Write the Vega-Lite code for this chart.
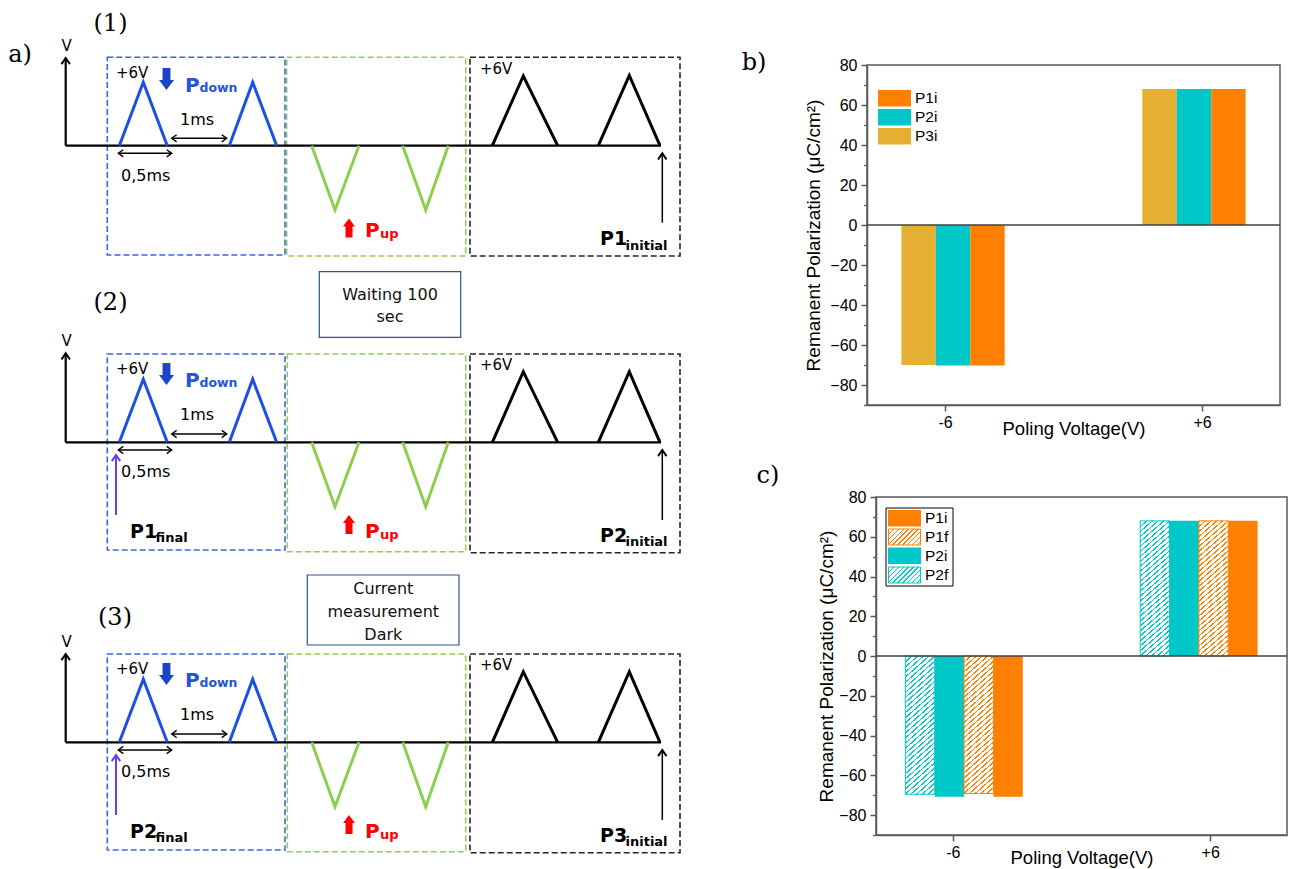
{
  "$schema": "https://vega.github.io/schema/vega-lite/v6.json",
  "padding": 0,
  "background": "white",
  "bounds": "flush",
  "spacing": 0,
  "config": {
    "view": {"stroke": null},
    "axis": {"labelFont": "Liberation Sans", "titleFont": "Liberation Sans", "labelColor": "#000", "titleColor": "#000", "titleFontWeight": "normal", "grid": false}
  },
  "hconcat": [
    {
      "width": 867,
      "height": 869,
      "encoding": {
        "x": {"field": "x", "type": "quantitative", "scale": {"domain": [0, 867], "nice": false, "zero": false}, "axis": null},
        "y": {"field": "y", "type": "quantitative", "scale": {"domain": [0, 869], "nice": false, "zero": false, "reverse": true}, "axis": null}
      },
      "layer": [
        {
          "data": {"values": [
            {"row": 1, "x": 107.3, "x2": 285, "y": 57.3, "y2": 255},
            {"row": 2, "x": 107.3, "x2": 285, "y": 354, "y2": 550},
            {"row": 3, "x": 107.3, "x2": 285, "y": 654, "y2": 850}
          ]},
          "mark": {"type": "rect", "fillOpacity": 0, "stroke": "#3A66E0", "strokeWidth": 1.6, "strokeDash": [6, 3]},
          "encoding": {"x2": {"field": "x2"}, "y2": {"field": "y2"}}
        },
        {
          "data": {"values": [
            {"row": 1, "x": 286.7, "x2": 465.7, "y": 57.3, "y2": 256},
            {"row": 2, "x": 287.3, "x2": 465.7, "y": 354, "y2": 551.7},
            {"row": 3, "x": 287.3, "x2": 465.7, "y": 654, "y2": 851.7}
          ]},
          "mark": {"type": "rect", "fillOpacity": 0, "stroke": "#92D050", "strokeWidth": 1.6, "strokeDash": [6, 3]},
          "encoding": {"x2": {"field": "x2"}, "y2": {"field": "y2"}}
        },
        {
          "data": {"values": [
            {"row": 1, "x": 470, "x2": 680, "y": 57.3, "y2": 256},
            {"row": 2, "x": 470, "x2": 680, "y": 354, "y2": 552.7},
            {"row": 3, "x": 470, "x2": 680, "y": 654, "y2": 852.7}
          ]},
          "mark": {"type": "rect", "fillOpacity": 0, "stroke": "#262626", "strokeWidth": 1.6, "strokeDash": [6, 3]},
          "encoding": {"x2": {"field": "x2"}, "y2": {"field": "y2"}}
        },
        {
          "data": {"values": [
            {"x": 319.3, "x2": 460.7, "y": 271.7, "y2": 337.3},
            {"x": 307.3, "x2": 459, "y": 575, "y2": 645}
          ]},
          "mark": {"type": "rect", "fillOpacity": 0, "stroke": "#2F528F", "strokeWidth": 1.2},
          "encoding": {"x2": {"field": "x2"}, "y2": {"field": "y2"}}
        },
        {
          "data": {"values": [
            {"x": 65.7, "x2": 65.7, "y": 58, "y2": 145.7},
            {"x": 65.7, "x2": 65.7, "y": 353.3, "y2": 442.3},
            {"x": 65.7, "x2": 65.7, "y": 654, "y2": 742.3},
            {"x": 65.7, "x2": 661, "y": 145.7, "y2": 145.7},
            {"x": 65.7, "x2": 661, "y": 442.3, "y2": 442.3},
            {"x": 65.7, "x2": 661, "y": 742.3, "y2": 742.3}
          ]},
          "mark": {"type": "rule", "color": "#000", "strokeWidth": 2.2},
          "encoding": {"x2": {"field": "x2"}, "y2": {"field": "y2"}}
        },
        {
          "data": {"values": [
            {"p": "d11", "i": 0, "x": 119.3, "y": 145.7}, {"p": "d11", "i": 1, "x": 143.3, "y": 82.3}, {"p": "d11", "i": 2, "x": 167.3, "y": 145.7},
            {"p": "d12", "i": 0, "x": 229.3, "y": 145.7}, {"p": "d12", "i": 1, "x": 252.7, "y": 82.3}, {"p": "d12", "i": 2, "x": 276.7, "y": 145.7},
            {"p": "d21", "i": 0, "x": 119.3, "y": 442.3}, {"p": "d21", "i": 1, "x": 143.3, "y": 379.3}, {"p": "d21", "i": 2, "x": 167.3, "y": 442.3},
            {"p": "d22", "i": 0, "x": 229.3, "y": 442.3}, {"p": "d22", "i": 1, "x": 252.7, "y": 379.3}, {"p": "d22", "i": 2, "x": 276.7, "y": 442.3},
            {"p": "d31", "i": 0, "x": 119.3, "y": 742.3}, {"p": "d31", "i": 1, "x": 143.3, "y": 679.3}, {"p": "d31", "i": 2, "x": 167.3, "y": 742.3},
            {"p": "d32", "i": 0, "x": 229.3, "y": 742.3}, {"p": "d32", "i": 1, "x": 252.7, "y": 679.3}, {"p": "d32", "i": 2, "x": 276.7, "y": 742.3}
          ]},
          "mark": {"type": "line", "color": "#1B4FE6", "strokeWidth": 3, "strokeJoin": "miter", "strokeCap": "butt"},
          "encoding": {"detail": {"field": "p"}, "order": {"field": "i", "type": "quantitative"}}
        },
        {
          "data": {"values": [
            {"p": "u11", "i": 0, "x": 311.7, "y": 145.7}, {"p": "u11", "i": 1, "x": 335, "y": 210}, {"p": "u11", "i": 2, "x": 359, "y": 145.7},
            {"p": "u12", "i": 0, "x": 402.7, "y": 145.7}, {"p": "u12", "i": 1, "x": 425.7, "y": 210}, {"p": "u12", "i": 2, "x": 448.3, "y": 145.7},
            {"p": "u21", "i": 0, "x": 311.7, "y": 442.3}, {"p": "u21", "i": 1, "x": 335, "y": 506.7}, {"p": "u21", "i": 2, "x": 359, "y": 442.3},
            {"p": "u22", "i": 0, "x": 402.7, "y": 442.3}, {"p": "u22", "i": 1, "x": 425.7, "y": 506.7}, {"p": "u22", "i": 2, "x": 448.3, "y": 442.3},
            {"p": "u31", "i": 0, "x": 311.7, "y": 742.3}, {"p": "u31", "i": 1, "x": 335, "y": 806.7}, {"p": "u31", "i": 2, "x": 359, "y": 742.3},
            {"p": "u32", "i": 0, "x": 402.7, "y": 742.3}, {"p": "u32", "i": 1, "x": 425.7, "y": 806.7}, {"p": "u32", "i": 2, "x": 448.3, "y": 742.3}
          ]},
          "mark": {"type": "line", "color": "#8CCF4D", "strokeWidth": 3, "strokeJoin": "miter", "strokeCap": "butt"},
          "encoding": {"detail": {"field": "p"}, "order": {"field": "i", "type": "quantitative"}}
        },
        {
          "data": {"values": [
            {"p": "k11", "i": 0, "x": 492.3, "y": 145.7}, {"p": "k11", "i": 1, "x": 523.3, "y": 76}, {"p": "k11", "i": 2, "x": 557.7, "y": 145.7},
            {"p": "k12", "i": 0, "x": 598.3, "y": 145.7}, {"p": "k12", "i": 1, "x": 629.3, "y": 75.5}, {"p": "k12", "i": 2, "x": 660, "y": 145.7},
            {"p": "k21", "i": 0, "x": 492.3, "y": 442.3}, {"p": "k21", "i": 1, "x": 523.3, "y": 371.7}, {"p": "k21", "i": 2, "x": 557.7, "y": 442.3},
            {"p": "k22", "i": 0, "x": 598.3, "y": 442.3}, {"p": "k22", "i": 1, "x": 629.3, "y": 371.7}, {"p": "k22", "i": 2, "x": 660, "y": 442.3},
            {"p": "k31", "i": 0, "x": 492.3, "y": 742.3}, {"p": "k31", "i": 1, "x": 523.3, "y": 671.7}, {"p": "k31", "i": 2, "x": 557.7, "y": 742.3},
            {"p": "k32", "i": 0, "x": 598.3, "y": 742.3}, {"p": "k32", "i": 1, "x": 629.3, "y": 671.7}, {"p": "k32", "i": 2, "x": 660, "y": 742.3}
          ]},
          "mark": {"type": "line", "color": "#000000", "strokeWidth": 3, "strokeJoin": "miter", "strokeCap": "butt"},
          "encoding": {"detail": {"field": "p"}, "order": {"field": "i", "type": "quantitative"}}
        },
        {
          "data": {"values": [
            {"x": 171.7, "x2": 226.7, "y": 138.3, "y2": 138.3},
            {"x": 171.7, "x2": 226.7, "y": 434, "y2": 434},
            {"x": 171.7, "x2": 226.7, "y": 734, "y2": 734},
            {"x": 118.3, "x2": 171.7, "y": 153.3, "y2": 153.3},
            {"x": 118.3, "x2": 171.7, "y": 450, "y2": 450},
            {"x": 118.3, "x2": 171.7, "y": 750, "y2": 750},
            {"x": 662.3, "x2": 662.3, "y": 154, "y2": 222.7},
            {"x": 662.3, "x2": 662.3, "y": 451, "y2": 520},
            {"x": 662.3, "x2": 662.3, "y": 751, "y2": 820}
          ]},
          "mark": {"type": "rule", "color": "#000", "strokeWidth": 1.5},
          "encoding": {"x2": {"field": "x2"}, "y2": {"field": "y2"}}
        },
        {
          "data": {"values": [
            {"x": 116, "x2": 116, "y": 456, "y2": 515},
            {"x": 116, "x2": 116, "y": 756, "y2": 815}
          ]},
          "mark": {"type": "rule", "color": "#6A3CF0", "strokeWidth": 2},
          "encoding": {"x2": {"field": "x2"}, "y2": {"field": "y2"}}
        },
        {
          "data": {"values": [
            {"x": 171.7, "y": 138.3}, {"x": 171.7, "y": 434}, {"x": 171.7, "y": 734},
            {"x": 118.3, "y": 153.3}, {"x": 118.3, "y": 450}, {"x": 118.3, "y": 750}
          ]},
          "mark": {"type": "point", "shape": "M1.1,-0.8L0,0L1.1,0.8", "size": 81, "filled": false, "stroke": "#000", "strokeWidth": 1.4, "opacity": 1},
          "encoding": {}
        },
        {
          "data": {"values": [
            {"x": 226.7, "y": 138.3}, {"x": 226.7, "y": 434}, {"x": 226.7, "y": 734},
            {"x": 171.7, "y": 153.3}, {"x": 171.7, "y": 450}, {"x": 171.7, "y": 750}
          ]},
          "mark": {"type": "point", "shape": "M-1.1,-0.8L0,0L-1.1,0.8", "size": 81, "filled": false, "stroke": "#000", "strokeWidth": 1.4, "opacity": 1},
          "encoding": {}
        },
        {
          "data": {"values": [
            {"x": 65.7, "y": 58}, {"x": 65.7, "y": 353.3}, {"x": 65.7, "y": 654},
            {"x": 662.3, "y": 153.3}, {"x": 662.3, "y": 450}, {"x": 662.3, "y": 750}
          ]},
          "mark": {"type": "point", "shape": "M-0.65,0.95L0,0L0.65,0.95", "size": 169, "filled": false, "stroke": "#000", "strokeWidth": 2, "opacity": 1},
          "encoding": {}
        },
        {
          "data": {"values": [{"x": 116, "y": 455}, {"x": 116, "y": 755}]},
          "mark": {"type": "point", "shape": "M-0.65,0.95L0,0L0.65,0.95", "size": 169, "filled": false, "stroke": "#6A3CF0", "strokeWidth": 2, "opacity": 1},
          "encoding": {}
        },
        {
          "data": {"values": [{"x": 166.5, "y": 79}, {"x": 166.5, "y": 374}, {"x": 166.5, "y": 674}]},
          "mark": {"type": "point", "shape": "M-0.36,-1L0.36,-1L0.36,0.1L0.68,0.1L0,1L-0.68,0.1L-0.36,0.1Z", "size": 484, "filled": true, "fill": "#1A45C9", "strokeWidth": 0, "opacity": 1},
          "encoding": {}
        },
        {
          "data": {"values": [{"x": 349, "y": 228}, {"x": 349, "y": 524.5}, {"x": 349, "y": 824.5}]},
          "mark": {"type": "point", "shape": "M-0.37,1L0.37,1L0.37,-0.15L0.63,-0.15L0,-1L-0.63,-0.15L-0.37,-0.15Z", "size": 361, "filled": true, "fill": "#FF0000", "strokeWidth": 0, "opacity": 1},
          "encoding": {}
        },
        {
          "data": {"values": [
            {"t": "(1)", "x": 110.5, "y": 24}, {"t": "(2)", "x": 110.5, "y": 303}, {"t": "(3)", "x": 115, "y": 618.3},
            {"t": "a)", "x": 20, "y": 55}, {"t": "b)", "x": 754, "y": 62.5}, {"t": "c)", "x": 768, "y": 476}
          ]},
          "mark": {"type": "text", "font": "DejaVu Serif", "fontSize": 24, "align": "center", "baseline": "middle", "color": "#000"},
          "encoding": {"text": {"field": "t"}}
        },
        {
          "data": {"values": [
            {"t": "V", "x": 66.7, "y": 51}, {"t": "V", "x": 66.7, "y": 346}, {"t": "V", "x": 66.7, "y": 646.7}
          ]},
          "mark": {"type": "text", "font": "DejaVu Sans", "fontSize": 15, "align": "center", "baseline": "alphabetic", "color": "#000"},
          "encoding": {"text": {"field": "t"}}
        },
        {
          "data": {"values": [
            {"t": "+6V", "x": 116, "y": 78}, {"t": "+6V", "x": 116, "y": 374}, {"t": "+6V", "x": 116, "y": 674},
            {"t": "+6V", "x": 480, "y": 74}, {"t": "+6V", "x": 480, "y": 370}, {"t": "+6V", "x": 480, "y": 670}
          ]},
          "mark": {"type": "text", "font": "DejaVu Sans", "fontSize": 15, "align": "left", "baseline": "alphabetic", "color": "#000"},
          "encoding": {"text": {"field": "t"}}
        },
        {
          "data": {"values": [
            {"t": "1ms", "x": 180, "y": 125}, {"t": "1ms", "x": 180, "y": 420}, {"t": "1ms", "x": 180, "y": 720},
            {"t": "0,5ms", "x": 121, "y": 180.5}, {"t": "0,5ms", "x": 121, "y": 477}, {"t": "0,5ms", "x": 121, "y": 777}
          ]},
          "mark": {"type": "text", "font": "DejaVu Sans", "fontSize": 16, "align": "left", "baseline": "alphabetic", "color": "#000"},
          "encoding": {"text": {"field": "t"}}
        },
        {
          "data": {"values": [
            {"t": "Waiting 100", "x": 390, "y": 300}, {"t": "sec", "x": 390, "y": 321.7},
            {"t": "Current", "x": 383.3, "y": 594}, {"t": "measurement", "x": 383.3, "y": 617.3}, {"t": "Dark", "x": 383.3, "y": 640}
          ]},
          "mark": {"type": "text", "font": "DejaVu Sans", "fontSize": 16, "align": "center", "baseline": "alphabetic", "color": "#111"},
          "encoding": {"text": {"field": "t"}}
        },
        {
          "data": {"values": [{"t": "P", "x": 185, "y": 91.7}, {"t": "P", "x": 185, "y": 386.7}, {"t": "P", "x": 185, "y": 686.7}]},
          "mark": {"type": "text", "font": "DejaVu Sans", "fontWeight": "bold", "fontSize": 20, "align": "left", "baseline": "alphabetic", "color": "#2455D6"},
          "encoding": {"text": {"field": "t"}}
        },
        {
          "data": {"values": [{"t": "down", "x": 199.5, "y": 92}, {"t": "down", "x": 199.5, "y": 387}, {"t": "down", "x": 199.5, "y": 687}]},
          "mark": {"type": "text", "font": "DejaVu Sans", "fontWeight": "bold", "fontSize": 12.5, "align": "left", "baseline": "alphabetic", "color": "#2455D6"},
          "encoding": {"text": {"field": "t"}}
        },
        {
          "data": {"values": [{"t": "P", "x": 365, "y": 237.3}, {"t": "P", "x": 365, "y": 538.3}, {"t": "P", "x": 365, "y": 838.3}]},
          "mark": {"type": "text", "font": "DejaVu Sans", "fontWeight": "bold", "fontSize": 20, "align": "left", "baseline": "alphabetic", "color": "#FF0000"},
          "encoding": {"text": {"field": "t"}}
        },
        {
          "data": {"values": [{"t": "up", "x": 380, "y": 238}, {"t": "up", "x": 380, "y": 539}, {"t": "up", "x": 380, "y": 839}]},
          "mark": {"type": "text", "font": "DejaVu Sans", "fontWeight": "bold", "fontSize": 13, "align": "left", "baseline": "alphabetic", "color": "#FF0000"},
          "encoding": {"text": {"field": "t"}}
        },
        {
          "data": {"values": [
            {"t": "P1", "x": 600, "y": 245}, {"t": "P2", "x": 600, "y": 541.7}, {"t": "P3", "x": 600, "y": 841.7},
            {"t": "P1", "x": 130, "y": 538.3}, {"t": "P2", "x": 130, "y": 838.3}
          ]},
          "mark": {"type": "text", "font": "DejaVu Sans", "fontWeight": "bold", "fontSize": 19, "align": "left", "baseline": "alphabetic", "color": "#000"},
          "encoding": {"text": {"field": "t"}}
        },
        {
          "data": {"values": [
            {"t": "initial", "x": 625.5, "y": 249.5}, {"t": "initial", "x": 625.5, "y": 546}, {"t": "initial", "x": 625.5, "y": 846},
            {"t": "final", "x": 155.5, "y": 541.5}, {"t": "final", "x": 155.5, "y": 841.5}
          ]},
          "mark": {"type": "text", "font": "DejaVu Sans", "fontWeight": "bold", "fontSize": 13, "align": "left", "baseline": "alphabetic", "color": "#000"},
          "encoding": {"text": {"field": "t"}}
        },
        {
          "data": {"values": [{"x": 886, "x2": 953, "y": 508, "y2": 586}]},
          "mark": {"type": "rect", "fill": "#ffffff", "stroke": "#000", "strokeWidth": 1},
          "encoding": {"x2": {"field": "x2"}, "y2": {"field": "y2"}}
        },
        {
          "data": {"values": [{"key": "P1i", "x": 878, "x2": 911, "y": 90, "y2": 106.5}, {"key": "P1i", "x": 888, "x2": 921, "y": 510, "y2": 526.5}]},
          "mark": {"type": "rect", "fill": "#FF8000"},
          "encoding": {"x2": {"field": "x2"}, "y2": {"field": "y2"}}
        },
        {
          "data": {"values": [{"key": "P2i", "x": 878, "x2": 911, "y": 109, "y2": 125.5}, {"key": "P2i", "x": 888, "x2": 921, "y": 547.5, "y2": 564}]},
          "mark": {"type": "rect", "fill": "#00C8C8"},
          "encoding": {"x2": {"field": "x2"}, "y2": {"field": "y2"}}
        },
        {
          "data": {"values": [{"key": "P3i", "x": 878, "x2": 911, "y": 128, "y2": 144.5}]},
          "mark": {"type": "rect", "fill": "#E5AF32"},
          "encoding": {"x2": {"field": "x2"}, "y2": {"field": "y2"}}
        },
        {
          "data": {"values": [{"key": "P1f", "x": 888.5, "x2": 920.5, "y": 529, "y2": 545}]},
          "mark": {"type": "rect", "stroke": "#FF8000", "strokeWidth": 1, "fill": {"gradient": "linear", "x1": 0, "y1": 0, "x2": 1.2, "y2": 0.6, "stops": [
            {"offset": 0, "color": "#FF8000"}, {"offset": 0.0303, "color": "#FF8000"}, {"offset": 0.0303, "color": "#ffffff"}, {"offset": 0.101, "color": "#ffffff"},
            {"offset": 0.101, "color": "#FF8000"}, {"offset": 0.1313, "color": "#FF8000"}, {"offset": 0.1313, "color": "#ffffff"}, {"offset": 0.202, "color": "#ffffff"},
            {"offset": 0.202, "color": "#FF8000"}, {"offset": 0.2323, "color": "#FF8000"}, {"offset": 0.2323, "color": "#ffffff"}, {"offset": 0.303, "color": "#ffffff"},
            {"offset": 0.303, "color": "#FF8000"}, {"offset": 0.3333, "color": "#FF8000"}, {"offset": 0.3333, "color": "#ffffff"}, {"offset": 0.404, "color": "#ffffff"},
            {"offset": 0.404, "color": "#FF8000"}, {"offset": 0.4343, "color": "#FF8000"}, {"offset": 0.4343, "color": "#ffffff"}, {"offset": 0.5051, "color": "#ffffff"},
            {"offset": 0.5051, "color": "#FF8000"}, {"offset": 0.5354, "color": "#FF8000"}, {"offset": 0.5354, "color": "#ffffff"}, {"offset": 0.6061, "color": "#ffffff"},
            {"offset": 0.6061, "color": "#FF8000"}, {"offset": 0.6364, "color": "#FF8000"}, {"offset": 0.6364, "color": "#ffffff"}, {"offset": 0.7071, "color": "#ffffff"},
            {"offset": 0.7071, "color": "#FF8000"}, {"offset": 0.7374, "color": "#FF8000"}, {"offset": 0.7374, "color": "#ffffff"}, {"offset": 0.8081, "color": "#ffffff"},
            {"offset": 0.8081, "color": "#FF8000"}, {"offset": 0.8384, "color": "#FF8000"}, {"offset": 0.8384, "color": "#ffffff"}, {"offset": 0.9091, "color": "#ffffff"},
            {"offset": 0.9091, "color": "#FF8000"}, {"offset": 0.9394, "color": "#FF8000"}, {"offset": 0.9394, "color": "#ffffff"}, {"offset": 1, "color": "#ffffff"}
          ]}},
          "encoding": {"x2": {"field": "x2"}, "y2": {"field": "y2"}}
        },
        {
          "data": {"values": [{"key": "P2f", "x": 888.5, "x2": 920.5, "y": 567, "y2": 583}]},
          "mark": {"type": "rect", "stroke": "#00C8C8", "strokeWidth": 1, "fill": {"gradient": "linear", "x1": 0, "y1": 0, "x2": 1.2, "y2": 0.6, "stops": [
            {"offset": 0, "color": "#00C8C8"}, {"offset": 0.0303, "color": "#00C8C8"}, {"offset": 0.0303, "color": "#ffffff"}, {"offset": 0.101, "color": "#ffffff"},
            {"offset": 0.101, "color": "#00C8C8"}, {"offset": 0.1313, "color": "#00C8C8"}, {"offset": 0.1313, "color": "#ffffff"}, {"offset": 0.202, "color": "#ffffff"},
            {"offset": 0.202, "color": "#00C8C8"}, {"offset": 0.2323, "color": "#00C8C8"}, {"offset": 0.2323, "color": "#ffffff"}, {"offset": 0.303, "color": "#ffffff"},
            {"offset": 0.303, "color": "#00C8C8"}, {"offset": 0.3333, "color": "#00C8C8"}, {"offset": 0.3333, "color": "#ffffff"}, {"offset": 0.404, "color": "#ffffff"},
            {"offset": 0.404, "color": "#00C8C8"}, {"offset": 0.4343, "color": "#00C8C8"}, {"offset": 0.4343, "color": "#ffffff"}, {"offset": 0.5051, "color": "#ffffff"},
            {"offset": 0.5051, "color": "#00C8C8"}, {"offset": 0.5354, "color": "#00C8C8"}, {"offset": 0.5354, "color": "#ffffff"}, {"offset": 0.6061, "color": "#ffffff"},
            {"offset": 0.6061, "color": "#00C8C8"}, {"offset": 0.6364, "color": "#00C8C8"}, {"offset": 0.6364, "color": "#ffffff"}, {"offset": 0.7071, "color": "#ffffff"},
            {"offset": 0.7071, "color": "#00C8C8"}, {"offset": 0.7374, "color": "#00C8C8"}, {"offset": 0.7374, "color": "#ffffff"}, {"offset": 0.8081, "color": "#ffffff"},
            {"offset": 0.8081, "color": "#00C8C8"}, {"offset": 0.8384, "color": "#00C8C8"}, {"offset": 0.8384, "color": "#ffffff"}, {"offset": 0.9091, "color": "#ffffff"},
            {"offset": 0.9091, "color": "#00C8C8"}, {"offset": 0.9394, "color": "#00C8C8"}, {"offset": 0.9394, "color": "#ffffff"}, {"offset": 1, "color": "#ffffff"}
          ]}},
          "encoding": {"x2": {"field": "x2"}, "y2": {"field": "y2"}}
        },
        {
          "data": {"values": [
            {"t": "P1i", "x": 915, "y": 98.3}, {"t": "P2i", "x": 915, "y": 117.3}, {"t": "P3i", "x": 915, "y": 136.3},
            {"t": "P1i", "x": 925, "y": 518.3}, {"t": "P1f", "x": 925, "y": 537}, {"t": "P2i", "x": 925, "y": 555.8}, {"t": "P2f", "x": 925, "y": 575}
          ]},
          "mark": {"type": "text", "font": "Liberation Sans", "fontSize": 15.5, "align": "left", "baseline": "middle", "color": "#000"},
          "encoding": {"text": {"field": "t"}}
        }
      ]
    },
    {
      "vconcat": [
        {"width": 1, "height": 55, "data": {"values": [{}]}, "mark": {"type": "point", "opacity": 0}},
        {
          "vconcat": [
            {
              "width": 413,
              "height": 340,
              "view": {"stroke": "#595959", "strokeWidth": 1.5},
              "data": {"values": [
                {"V": "-6", "S": "P3i", "slot": "-6 P3i", "P": -70}, {"V": "-6", "S": "P2i", "slot": "-6 P2i", "P": -70.3}, {"V": "-6", "S": "P1i", "slot": "-6 P1i", "P": -70.3},
                {"V": "+6", "S": "P3i", "slot": "+6 P3i", "P": 68}, {"V": "+6", "S": "P2i", "slot": "+6 P2i", "P": 68}, {"V": "+6", "S": "P1i", "slot": "+6 P1i", "P": 68}
              ]},
              "layer": [
                {
                  "mark": {"type": "bar"},
                  "encoding": {
                    "x": {"field": "slot", "type": "nominal",
                      "scale": {"domain": ["-6 P3i", "-6 P2i", "-6 P1i", "g1", "g2", "g3", "g4", "+6 P3i", "+6 P2i", "+6 P1i"], "paddingInner": 0, "paddingOuter": 2.138},
                      "axis": null},
                    "y": {"field": "P", "type": "quantitative", "scale": {"domain": [-90, 80], "nice": false, "zero": false},
                      "axis": {"orient": "left", "values": [-80, -60, -40, -20, 0, 20, 40, 60, 80], "title": "Remanent Polarization (μC/cm²)", "titleX": -54, "titleBaseline": "middle", "titleFontSize": 19, "labelFontSize": 16, "tickSize": 6, "labelPadding": 4, "domainColor": "#595959", "domainWidth": 1.5, "tickColor": "#595959", "tickWidth": 1.5}},
                    "color": {"field": "S", "type": "nominal", "scale": {"domain": ["P1i", "P2i", "P3i"], "range": ["#FF8000", "#00C8C8", "#E5AF32"]}, "legend": null}
                  }
                },
                {
                  "data": {"values": [{}]},
                  "mark": {"type": "rule", "color": "#404040", "strokeWidth": 1.6},
                  "encoding": {"y": {"datum": 0, "type": "quantitative", "axis": null}}
                },
                {
                  "mark": {"type": "point", "opacity": 0},
                  "encoding": {"y": {"field": "P", "type": "quantitative", "axis": {"orient": "left", "values": [-90, -70, -50, -30, -10, 10, 30, 50, 70], "labels": false, "domain": false, "title": null, "tickSize": 3.5, "tickColor": "#595959", "tickWidth": 1.3}}}
                },
                {
                  "mark": {"type": "point", "opacity": 0},
                  "encoding": {"x": {"field": "V", "type": "nominal", "scale": {"type": "point", "domain": ["-6", "+6"], "padding": 0.3035},
                    "axis": {"orient": "bottom", "title": "Poling Voltage(V)", "labelAngle": 0, "labelFontSize": 16, "labelPadding": 3, "tickSize": 6, "titleFontSize": 18.5, "titleY": 29, "titleBaseline": "alphabetic", "domainColor": "#595959", "domainWidth": 1.5, "tickColor": "#595959", "tickWidth": 1.5}}}
                }
              ],
              "resolve": {"scale": {"x": "independent"}, "axis": {"x": "independent", "y": "independent"}}
            },
            {
              "hconcat": [
                {"width": 9, "height": 1, "data": {"values": [{}]}, "mark": {"type": "point", "opacity": 0}},
                {
                  "width": 411,
                  "height": 338,
                  "view": {"stroke": "#595959", "strokeWidth": 1.5},
                  "data": {"values": [
                    {"V": "-6", "S": "P2f", "slot": "-6 P2f", "P": -69.5}, {"V": "-6", "S": "P2i", "slot": "-6 P2i", "P": -70.8}, {"V": "-6", "S": "P1f", "slot": "-6 P1f", "P": -69.1}, {"V": "-6", "S": "P1i", "slot": "-6 P1i", "P": -70.8},
                    {"V": "+6", "S": "P2f", "slot": "+6 P2f", "P": 68}, {"V": "+6", "S": "P2i", "slot": "+6 P2i", "P": 68}, {"V": "+6", "S": "P1f", "slot": "+6 P1f", "P": 68}, {"V": "+6", "S": "P1i", "slot": "+6 P1i", "P": 68}
                  ]},
                  "layer": [
                    {
                      "transform": [{"filter": "datum.S === 'P1i' || datum.S === 'P2i'"}],
                      "mark": {"type": "bar"},
                      "encoding": {
                        "x": {"field": "slot", "type": "nominal",
                          "scale": {"domain": ["-6 P2f", "-6 P2i", "-6 P1f", "-6 P1i", "g1", "g2", "g3", "g4", "+6 P2f", "+6 P2i", "+6 P1f", "+6 P1i"], "paddingInner": 0, "paddingOuter": 1.98},
                          "axis": null},
                        "y": {"field": "P", "type": "quantitative", "scale": {"domain": [-90, 80], "nice": false, "zero": false},
                          "axis": {"orient": "left", "values": [-80, -60, -40, -20, 0, 20, 40, 60, 80], "title": "Remanent Polarization (μC/cm²)", "titleX": -50, "titleBaseline": "middle", "titleFontSize": 19, "labelFontSize": 16, "tickSize": 6, "labelPadding": 4, "domainColor": "#595959", "domainWidth": 1.5, "tickColor": "#595959", "tickWidth": 1.5}},
                        "fill": {"field": "S", "type": "nominal", "scale": {"domain": ["P1i", "P2i"], "range": ["#FF8000", "#00C8C8"]}, "legend": null}
                      }
                    },
                    {
                      "transform": [{"filter": "datum.S === 'P1f'"}],
                      "mark": {"type": "bar", "stroke": "#FF8000", "strokeWidth": 1, "fill": {"gradient": "linear", "x1": 0, "y1": 0, "x2": 0.2169, "y2": 1.148, "stops": [
                        {"offset": 0, "color": "#FF8000"}, {"offset": 0.0093, "color": "#FF8000"}, {"offset": 0.0093, "color": "#ffffff"}, {"offset": 0.0309, "color": "#ffffff"},
                        {"offset": 0.0309, "color": "#FF8000"}, {"offset": 0.0402, "color": "#FF8000"}, {"offset": 0.0402, "color": "#ffffff"}, {"offset": 0.0618, "color": "#ffffff"},
                        {"offset": 0.0618, "color": "#FF8000"}, {"offset": 0.0711, "color": "#FF8000"}, {"offset": 0.0711, "color": "#ffffff"}, {"offset": 0.0928, "color": "#ffffff"},
                        {"offset": 0.0928, "color": "#FF8000"}, {"offset": 0.1021, "color": "#FF8000"}, {"offset": 0.1021, "color": "#ffffff"}, {"offset": 0.1237, "color": "#ffffff"},
                        {"offset": 0.1237, "color": "#FF8000"}, {"offset": 0.133, "color": "#FF8000"}, {"offset": 0.133, "color": "#ffffff"}, {"offset": 0.1546, "color": "#ffffff"},
                        {"offset": 0.1546, "color": "#FF8000"}, {"offset": 0.1639, "color": "#FF8000"}, {"offset": 0.1639, "color": "#ffffff"}, {"offset": 0.1855, "color": "#ffffff"},
                        {"offset": 0.1855, "color": "#FF8000"}, {"offset": 0.1948, "color": "#FF8000"}, {"offset": 0.1948, "color": "#ffffff"}, {"offset": 0.2164, "color": "#ffffff"},
                        {"offset": 0.2164, "color": "#FF8000"}, {"offset": 0.2257, "color": "#FF8000"}, {"offset": 0.2257, "color": "#ffffff"}, {"offset": 0.2474, "color": "#ffffff"},
                        {"offset": 0.2474, "color": "#FF8000"}, {"offset": 0.2567, "color": "#FF8000"}, {"offset": 0.2567, "color": "#ffffff"}, {"offset": 0.2783, "color": "#ffffff"},
                        {"offset": 0.2783, "color": "#FF8000"}, {"offset": 0.2876, "color": "#FF8000"}, {"offset": 0.2876, "color": "#ffffff"}, {"offset": 0.3092, "color": "#ffffff"},
                        {"offset": 0.3092, "color": "#FF8000"}, {"offset": 0.3185, "color": "#FF8000"}, {"offset": 0.3185, "color": "#ffffff"}, {"offset": 0.3401, "color": "#ffffff"},
                        {"offset": 0.3401, "color": "#FF8000"}, {"offset": 0.3494, "color": "#FF8000"}, {"offset": 0.3494, "color": "#ffffff"}, {"offset": 0.3711, "color": "#ffffff"},
                        {"offset": 0.3711, "color": "#FF8000"}, {"offset": 0.3804, "color": "#FF8000"}, {"offset": 0.3804, "color": "#ffffff"}, {"offset": 0.402, "color": "#ffffff"},
                        {"offset": 0.402, "color": "#FF8000"}, {"offset": 0.4113, "color": "#FF8000"}, {"offset": 0.4113, "color": "#ffffff"}, {"offset": 0.4329, "color": "#ffffff"},
                        {"offset": 0.4329, "color": "#FF8000"}, {"offset": 0.4422, "color": "#FF8000"}, {"offset": 0.4422, "color": "#ffffff"}, {"offset": 0.4638, "color": "#ffffff"},
                        {"offset": 0.4638, "color": "#FF8000"}, {"offset": 0.4731, "color": "#FF8000"}, {"offset": 0.4731, "color": "#ffffff"}, {"offset": 0.4947, "color": "#ffffff"},
                        {"offset": 0.4947, "color": "#FF8000"}, {"offset": 0.504, "color": "#FF8000"}, {"offset": 0.504, "color": "#ffffff"}, {"offset": 0.5257, "color": "#ffffff"},
                        {"offset": 0.5257, "color": "#FF8000"}, {"offset": 0.535, "color": "#FF8000"}, {"offset": 0.535, "color": "#ffffff"}, {"offset": 0.5566, "color": "#ffffff"},
                        {"offset": 0.5566, "color": "#FF8000"}, {"offset": 0.5659, "color": "#FF8000"}, {"offset": 0.5659, "color": "#ffffff"}, {"offset": 0.5875, "color": "#ffffff"},
                        {"offset": 0.5875, "color": "#FF8000"}, {"offset": 0.5968, "color": "#FF8000"}, {"offset": 0.5968, "color": "#ffffff"}, {"offset": 0.6184, "color": "#ffffff"},
                        {"offset": 0.6184, "color": "#FF8000"}, {"offset": 0.6277, "color": "#FF8000"}, {"offset": 0.6277, "color": "#ffffff"}, {"offset": 0.6493, "color": "#ffffff"},
                        {"offset": 0.6493, "color": "#FF8000"}, {"offset": 0.6586, "color": "#FF8000"}, {"offset": 0.6586, "color": "#ffffff"}, {"offset": 0.6803, "color": "#ffffff"},
                        {"offset": 0.6803, "color": "#FF8000"}, {"offset": 0.6896, "color": "#FF8000"}, {"offset": 0.6896, "color": "#ffffff"}, {"offset": 0.7112, "color": "#ffffff"},
                        {"offset": 0.7112, "color": "#FF8000"}, {"offset": 0.7205, "color": "#FF8000"}, {"offset": 0.7205, "color": "#ffffff"}, {"offset": 0.7421, "color": "#ffffff"},
                        {"offset": 0.7421, "color": "#FF8000"}, {"offset": 0.7514, "color": "#FF8000"}, {"offset": 0.7514, "color": "#ffffff"}, {"offset": 0.773, "color": "#ffffff"},
                        {"offset": 0.773, "color": "#FF8000"}, {"offset": 0.7823, "color": "#FF8000"}, {"offset": 0.7823, "color": "#ffffff"}, {"offset": 0.8039, "color": "#ffffff"},
                        {"offset": 0.8039, "color": "#FF8000"}, {"offset": 0.8132, "color": "#FF8000"}, {"offset": 0.8132, "color": "#ffffff"}, {"offset": 0.8349, "color": "#ffffff"},
                        {"offset": 0.8349, "color": "#FF8000"}, {"offset": 0.8442, "color": "#FF8000"}, {"offset": 0.8442, "color": "#ffffff"}, {"offset": 0.8658, "color": "#ffffff"},
                        {"offset": 0.8658, "color": "#FF8000"}, {"offset": 0.8751, "color": "#FF8000"}, {"offset": 0.8751, "color": "#ffffff"}, {"offset": 0.8967, "color": "#ffffff"},
                        {"offset": 0.8967, "color": "#FF8000"}, {"offset": 0.906, "color": "#FF8000"}, {"offset": 0.906, "color": "#ffffff"}, {"offset": 0.9276, "color": "#ffffff"},
                        {"offset": 0.9276, "color": "#FF8000"}, {"offset": 0.9369, "color": "#FF8000"}, {"offset": 0.9369, "color": "#ffffff"}, {"offset": 0.9586, "color": "#ffffff"},
                        {"offset": 0.9586, "color": "#FF8000"}, {"offset": 0.9679, "color": "#FF8000"}, {"offset": 0.9679, "color": "#ffffff"}, {"offset": 0.9895, "color": "#ffffff"},
                        {"offset": 0.9895, "color": "#FF8000"}, {"offset": 0.9988, "color": "#FF8000"}, {"offset": 0.9988, "color": "#ffffff"}, {"offset": 1, "color": "#ffffff"}
                      ]}},
                      "encoding": {
                        "x": {"field": "slot", "type": "nominal",
                          "scale": {"domain": ["-6 P2f", "-6 P2i", "-6 P1f", "-6 P1i", "g1", "g2", "g3", "g4", "+6 P2f", "+6 P2i", "+6 P1f", "+6 P1i"], "paddingInner": 0, "paddingOuter": 1.98},
                          "axis": null},
                        "y": {"field": "P", "type": "quantitative", "scale": {"domain": [-90, 80], "nice": false, "zero": false}, "axis": null}
                      }
                    },
                    {
                      "transform": [{"filter": "datum.S === 'P2f'"}],
                      "mark": {"type": "bar", "stroke": "#00C8C8", "strokeWidth": 1, "fill": {"gradient": "linear", "x1": 0, "y1": 0, "x2": 0.2169, "y2": 1.148, "stops": [
                        {"offset": 0, "color": "#00C8C8"}, {"offset": 0.0093, "color": "#00C8C8"}, {"offset": 0.0093, "color": "#ffffff"}, {"offset": 0.0309, "color": "#ffffff"},
                        {"offset": 0.0309, "color": "#00C8C8"}, {"offset": 0.0402, "color": "#00C8C8"}, {"offset": 0.0402, "color": "#ffffff"}, {"offset": 0.0618, "color": "#ffffff"},
                        {"offset": 0.0618, "color": "#00C8C8"}, {"offset": 0.0711, "color": "#00C8C8"}, {"offset": 0.0711, "color": "#ffffff"}, {"offset": 0.0928, "color": "#ffffff"},
                        {"offset": 0.0928, "color": "#00C8C8"}, {"offset": 0.1021, "color": "#00C8C8"}, {"offset": 0.1021, "color": "#ffffff"}, {"offset": 0.1237, "color": "#ffffff"},
                        {"offset": 0.1237, "color": "#00C8C8"}, {"offset": 0.133, "color": "#00C8C8"}, {"offset": 0.133, "color": "#ffffff"}, {"offset": 0.1546, "color": "#ffffff"},
                        {"offset": 0.1546, "color": "#00C8C8"}, {"offset": 0.1639, "color": "#00C8C8"}, {"offset": 0.1639, "color": "#ffffff"}, {"offset": 0.1855, "color": "#ffffff"},
                        {"offset": 0.1855, "color": "#00C8C8"}, {"offset": 0.1948, "color": "#00C8C8"}, {"offset": 0.1948, "color": "#ffffff"}, {"offset": 0.2164, "color": "#ffffff"},
                        {"offset": 0.2164, "color": "#00C8C8"}, {"offset": 0.2257, "color": "#00C8C8"}, {"offset": 0.2257, "color": "#ffffff"}, {"offset": 0.2474, "color": "#ffffff"},
                        {"offset": 0.2474, "color": "#00C8C8"}, {"offset": 0.2567, "color": "#00C8C8"}, {"offset": 0.2567, "color": "#ffffff"}, {"offset": 0.2783, "color": "#ffffff"},
                        {"offset": 0.2783, "color": "#00C8C8"}, {"offset": 0.2876, "color": "#00C8C8"}, {"offset": 0.2876, "color": "#ffffff"}, {"offset": 0.3092, "color": "#ffffff"},
                        {"offset": 0.3092, "color": "#00C8C8"}, {"offset": 0.3185, "color": "#00C8C8"}, {"offset": 0.3185, "color": "#ffffff"}, {"offset": 0.3401, "color": "#ffffff"},
                        {"offset": 0.3401, "color": "#00C8C8"}, {"offset": 0.3494, "color": "#00C8C8"}, {"offset": 0.3494, "color": "#ffffff"}, {"offset": 0.3711, "color": "#ffffff"},
                        {"offset": 0.3711, "color": "#00C8C8"}, {"offset": 0.3804, "color": "#00C8C8"}, {"offset": 0.3804, "color": "#ffffff"}, {"offset": 0.402, "color": "#ffffff"},
                        {"offset": 0.402, "color": "#00C8C8"}, {"offset": 0.4113, "color": "#00C8C8"}, {"offset": 0.4113, "color": "#ffffff"}, {"offset": 0.4329, "color": "#ffffff"},
                        {"offset": 0.4329, "color": "#00C8C8"}, {"offset": 0.4422, "color": "#00C8C8"}, {"offset": 0.4422, "color": "#ffffff"}, {"offset": 0.4638, "color": "#ffffff"},
                        {"offset": 0.4638, "color": "#00C8C8"}, {"offset": 0.4731, "color": "#00C8C8"}, {"offset": 0.4731, "color": "#ffffff"}, {"offset": 0.4947, "color": "#ffffff"},
                        {"offset": 0.4947, "color": "#00C8C8"}, {"offset": 0.504, "color": "#00C8C8"}, {"offset": 0.504, "color": "#ffffff"}, {"offset": 0.5257, "color": "#ffffff"},
                        {"offset": 0.5257, "color": "#00C8C8"}, {"offset": 0.535, "color": "#00C8C8"}, {"offset": 0.535, "color": "#ffffff"}, {"offset": 0.5566, "color": "#ffffff"},
                        {"offset": 0.5566, "color": "#00C8C8"}, {"offset": 0.5659, "color": "#00C8C8"}, {"offset": 0.5659, "color": "#ffffff"}, {"offset": 0.5875, "color": "#ffffff"},
                        {"offset": 0.5875, "color": "#00C8C8"}, {"offset": 0.5968, "color": "#00C8C8"}, {"offset": 0.5968, "color": "#ffffff"}, {"offset": 0.6184, "color": "#ffffff"},
                        {"offset": 0.6184, "color": "#00C8C8"}, {"offset": 0.6277, "color": "#00C8C8"}, {"offset": 0.6277, "color": "#ffffff"}, {"offset": 0.6493, "color": "#ffffff"},
                        {"offset": 0.6493, "color": "#00C8C8"}, {"offset": 0.6586, "color": "#00C8C8"}, {"offset": 0.6586, "color": "#ffffff"}, {"offset": 0.6803, "color": "#ffffff"},
                        {"offset": 0.6803, "color": "#00C8C8"}, {"offset": 0.6896, "color": "#00C8C8"}, {"offset": 0.6896, "color": "#ffffff"}, {"offset": 0.7112, "color": "#ffffff"},
                        {"offset": 0.7112, "color": "#00C8C8"}, {"offset": 0.7205, "color": "#00C8C8"}, {"offset": 0.7205, "color": "#ffffff"}, {"offset": 0.7421, "color": "#ffffff"},
                        {"offset": 0.7421, "color": "#00C8C8"}, {"offset": 0.7514, "color": "#00C8C8"}, {"offset": 0.7514, "color": "#ffffff"}, {"offset": 0.773, "color": "#ffffff"},
                        {"offset": 0.773, "color": "#00C8C8"}, {"offset": 0.7823, "color": "#00C8C8"}, {"offset": 0.7823, "color": "#ffffff"}, {"offset": 0.8039, "color": "#ffffff"},
                        {"offset": 0.8039, "color": "#00C8C8"}, {"offset": 0.8132, "color": "#00C8C8"}, {"offset": 0.8132, "color": "#ffffff"}, {"offset": 0.8349, "color": "#ffffff"},
                        {"offset": 0.8349, "color": "#00C8C8"}, {"offset": 0.8442, "color": "#00C8C8"}, {"offset": 0.8442, "color": "#ffffff"}, {"offset": 0.8658, "color": "#ffffff"},
                        {"offset": 0.8658, "color": "#00C8C8"}, {"offset": 0.8751, "color": "#00C8C8"}, {"offset": 0.8751, "color": "#ffffff"}, {"offset": 0.8967, "color": "#ffffff"},
                        {"offset": 0.8967, "color": "#00C8C8"}, {"offset": 0.906, "color": "#00C8C8"}, {"offset": 0.906, "color": "#ffffff"}, {"offset": 0.9276, "color": "#ffffff"},
                        {"offset": 0.9276, "color": "#00C8C8"}, {"offset": 0.9369, "color": "#00C8C8"}, {"offset": 0.9369, "color": "#ffffff"}, {"offset": 0.9586, "color": "#ffffff"},
                        {"offset": 0.9586, "color": "#00C8C8"}, {"offset": 0.9679, "color": "#00C8C8"}, {"offset": 0.9679, "color": "#ffffff"}, {"offset": 0.9895, "color": "#ffffff"},
                        {"offset": 0.9895, "color": "#00C8C8"}, {"offset": 0.9988, "color": "#00C8C8"}, {"offset": 0.9988, "color": "#ffffff"}, {"offset": 1, "color": "#ffffff"}
                      ]}},
                      "encoding": {
                        "x": {"field": "slot", "type": "nominal",
                          "scale": {"domain": ["-6 P2f", "-6 P2i", "-6 P1f", "-6 P1i", "g1", "g2", "g3", "g4", "+6 P2f", "+6 P2i", "+6 P1f", "+6 P1i"], "paddingInner": 0, "paddingOuter": 1.98},
                          "axis": null},
                        "y": {"field": "P", "type": "quantitative", "scale": {"domain": [-90, 80], "nice": false, "zero": false}, "axis": null}
                      }
                    },
                    {
                      "data": {"values": [{}]},
                      "mark": {"type": "rule", "color": "#404040", "strokeWidth": 1.6},
                      "encoding": {"y": {"datum": 0, "type": "quantitative", "axis": null}}
                    },
                    {
                      "mark": {"type": "point", "opacity": 0},
                      "encoding": {"y": {"field": "P", "type": "quantitative", "axis": {"orient": "left", "values": [-90, -70, -50, -30, -10, 10, 30, 50, 70], "labels": false, "domain": false, "title": null, "tickSize": 3.5, "tickColor": "#595959", "tickWidth": 1.3}}}
                    },
                    {
                      "mark": {"type": "point", "opacity": 0},
                      "encoding": {"x": {"field": "V", "type": "nominal", "scale": {"type": "point", "domain": ["-6", "+6"], "padding": 0.2984},
                        "axis": {"orient": "bottom", "title": "Poling Voltage(V)", "labelAngle": 0, "labelFontSize": 16, "labelPadding": 3, "tickSize": 6, "titleFontSize": 18.5, "titleY": 28.5, "titleBaseline": "alphabetic", "domainColor": "#595959", "domainWidth": 1.5, "tickColor": "#595959", "tickWidth": 1.5}}}
                    }
                  ],
                  "resolve": {"scale": {"x": "independent"}, "axis": {"x": "independent", "y": "independent"}}
                }
              ],
              "spacing": 0,
              "bounds": "flush"
            }
          ],
          "spacing": 92,
          "bounds": "flush"
        }
      ],
      "spacing": 10,
      "bounds": "flush"
    }
  ]
}
